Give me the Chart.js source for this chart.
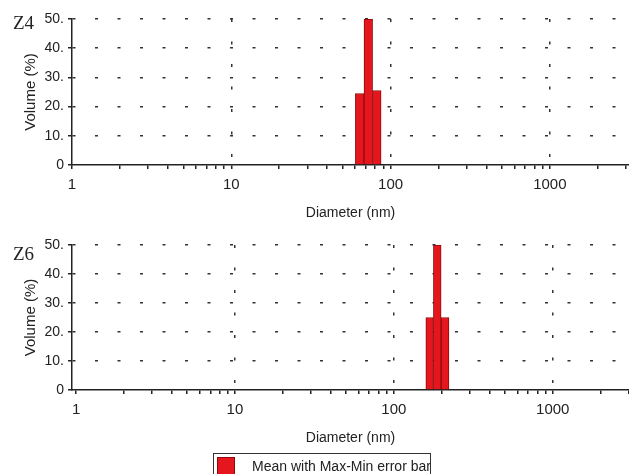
<!DOCTYPE html>
<html>
<head>
<meta charset="utf-8">
<script src="https://cdn.jsdelivr.net/npm/chart.js@4"></script>
<style>
  html, body { margin: 0; padding: 0; background: #fff; width: 629px; height: 474px; overflow: hidden; }
  .panel { position: absolute; left: 0; width: 629px; }
  .tag { position: absolute; left: 13px; font: 19px "Liberation Serif", serif; line-height: 19px; color: #222; }
  #legend { position: absolute; left: 213px; top: 453px; width: 218px; height: 30px; border: 1px solid #333;
            box-sizing: border-box; font: 14px "Liberation Sans", Arial, sans-serif; color: #222; background: #fff; }
  #legend .sw { position: absolute; left: 3px; top: 3px; width: 18px; height: 18px; background: #e5161d;
                border: 1px solid #8e0b0b; box-sizing: border-box; }
  #legend .tx { position: absolute; left: 38px; top: 4px; line-height: 16px; white-space: nowrap; }
</style>
</head>
<body>
<div class="panel" style="top:0;height:230px"><canvas id="z4"></canvas></div>
<div class="panel" style="top:226px;height:229px"><canvas id="z6"></canvas></div>
<div class="tag" style="top:13px">Z4</div>
<div class="tag" style="top:244px">Z6</div>
<div id="legend"><span class="sw"></span><span class="tx">Mean with Max-Min error bar</span></div>
<script>
// Volume-weighted size distributions: bin centre diameters (nm) and volume (%)
const z4Diameters = [64, 72.5, 82];
const z4Volumes   = [24.5, 50, 25.5];
const z6Diameters = [168, 187.5, 210];
const z6Volumes   = [25, 50, 25];

// Axis labels
const decadeLabels = [1, 10, 100, 1000];
const volumeLabels = [0, 10, 20, 30, 40, 50];

const INK = '#222';
const FONT = '"Liberation Sans", Arial, sans-serif';

// log ticks 1..9 x 10^k inside the axis range
function logTicks(min, max) {
  const out = [];
  for (let p = 1; p <= 1000; p *= 10) {
    for (let m = 1; m <= 9; m++) {
      const v = m * p;
      if (v >= min && v <= max) out.push(v);
    }
  }
  return out;
}

function makeChart(id, diameters, volumes, xMin, xMax) {
  const ticks = logTicks(xMin, xMax);
  return new Chart(document.getElementById(id), {
    type: 'bar',
    data: {
      datasets: [{
        data: diameters.map((d, i) => ({ x: d, y: volumes[i] })),
        backgroundColor: '#e5161d',
        borderColor: '#8e0b0b',
        borderWidth: 1,
        barThickness: 'flex',
        barPercentage: 1,
        categoryPercentage: 1
      }]
    },
    options: {
      responsive: true,
      maintainAspectRatio: false,
      animation: false,
      layout: { padding: { top: 19, left: 0, right: 0, bottom: 0 } },
      plugins: { legend: { display: false }, tooltip: { enabled: false } },
      scales: {
        x: {
          type: 'logarithmic',
          min: xMin,
          max: xMax,
          offset: false,
          afterBuildTicks: s => { s.ticks = ticks.map(v => ({ value: v })); },
          afterFit: s => { s.height = 65; s.paddingLeft = 0; s.paddingRight = 0; },
          ticks: {
            autoSkip: false, maxRotation: 0, minRotation: 0, padding: 7,
            color: INK, font: { family: FONT, size: 15 },
            callback: v => decadeLabels.includes(v) ? String(v) : ''
          },
          grid: {
            offset: false,
            lineWidth: 1.5,
            color: c => (c.tick && c.tick.value > 1 && decadeLabels.includes(c.tick.value)) ? '#333' : 'rgba(0,0,0,0)',
            tickColor: INK,
            tickLength: 4
          },
          border: { color: INK, width: 1.5, dash: [3, 19.5] },
          title: {
            display: true, text: 'Diameter (nm)', color: INK,
            font: { family: FONT, size: 14 }, padding: { top: 0, bottom: 8 }
          }
        },
        y: {
          min: 0, max: 50,
          afterFit: s => { s.width = 72; },
          ticks: {
            stepSize: 5, padding: 4, color: INK, font: { family: FONT, size: 14 },
            callback: v => volumeLabels.includes(v) ? (v === 0 ? '0' : v + '.') : ''
          },
          grid: {
            lineWidth: 1.5,
            color: c => (c.tick && c.tick.value > 0 && volumeLabels.includes(c.tick.value)) ? '#333' : 'rgba(0,0,0,0)',
            tickColor: INK,
            tickLength: 4
          },
          border: { color: INK, width: 1.5, dash: [3, 19.5] },
          title: {
            display: true, text: 'Volume (%)', color: INK,
            font: { family: FONT, size: 15 }, padding: { top: 22, bottom: 0 }
          }
        }
      }
    }
  });
}

makeChart('z4', z4Diameters, z4Volumes, 1, 3140);
makeChart('z6', z6Diameters, z6Volumes, 0.943, 3020);
</script>
</body>
</html>
